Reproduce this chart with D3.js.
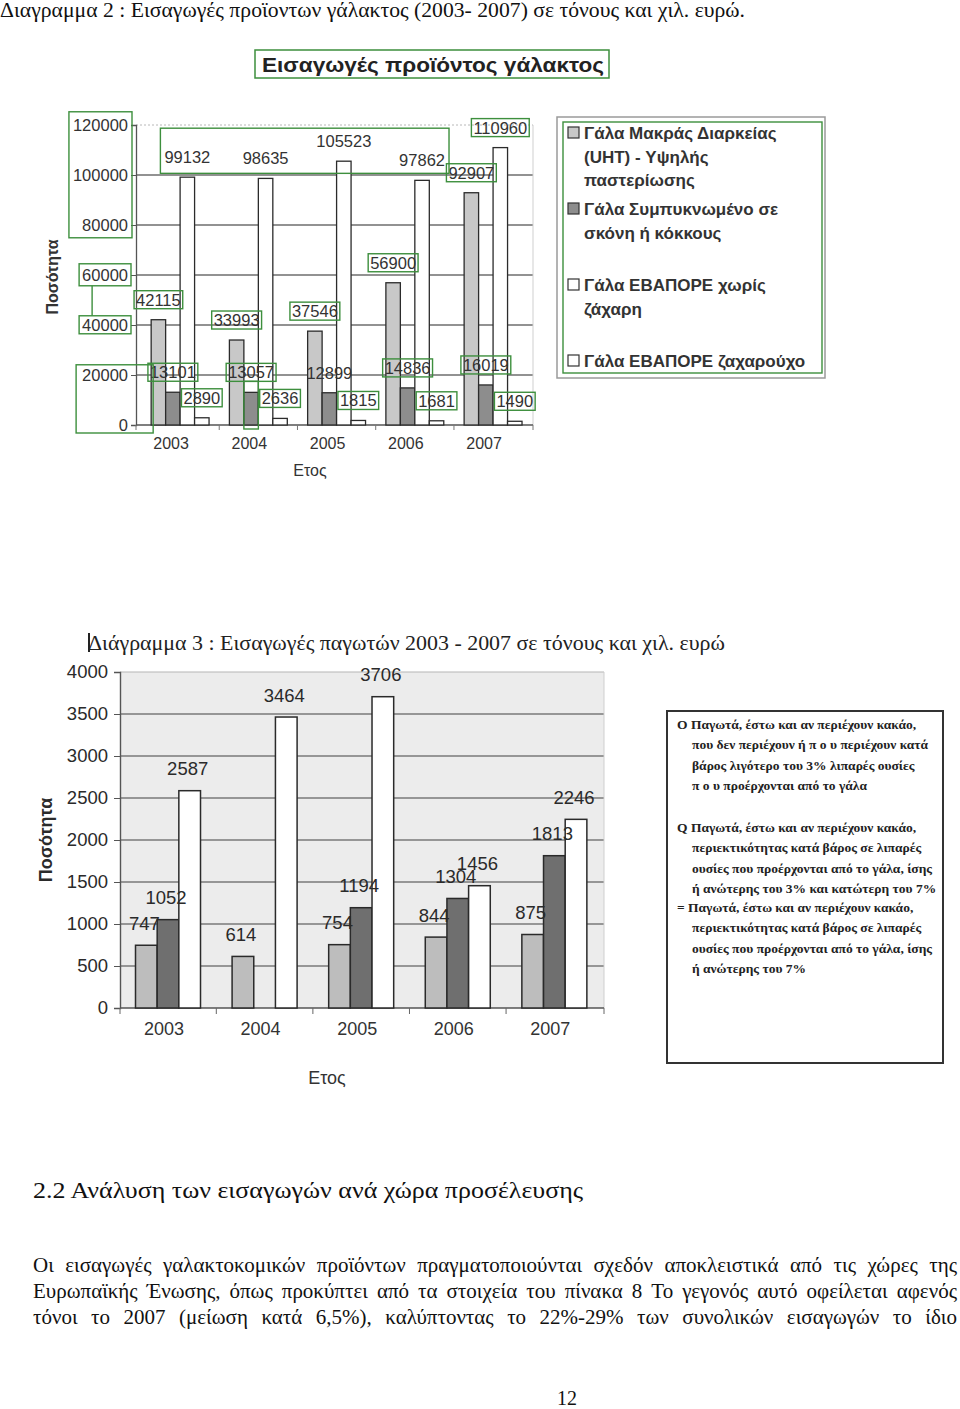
<!DOCTYPE html>
<html><head><meta charset="utf-8">
<script src="https://cdn.jsdelivr.net/npm/d3@7"></script>
<style>body{margin:0;background:#fff} svg{display:block}</style>
</head><body>
<svg id="page" width="960" height="1409"></svg>
<script>
// ---------------- DATA ----------------
const years = ["2003", "2004", "2005", "2006", "2007"];

// Chart 1 – milk product imports (tonnes)
const milkUHT        = [42115, 33993, 37546, 56900, 92907];
const milkPowder     = [13101, 13057, 12899, 14836, 16019];
const milkEvapPlain  = [99132, 98635, 105523, 97862, 110960];
const milkEvapSweet  = [2890, 2636, 1815, 1681, 1490];
const milkTicks      = [0, 20000, 40000, 60000, 80000, 100000, 120000];
const milkLegend = [
  ["Γάλα Μακράς Διαρκείας", "(UHT) - Υψηλής", "παστερίωσης"],
  ["Γάλα Συμπυκνωμένο σε", "σκόνη ή κόκκους"],
  ["Γάλα ΕΒΑΠΟΡΕ χωρίς", "ζάχαρη"],
  ["Γάλα ΕΒΑΠΟΡΕ ζαχαρούχο"]
];
const milkTitle = "Εισαγωγές προϊόντος γάλακτος";

// Chart 2 – ice cream imports (tonnes)
const iceLowFat  = [747, 614, 754, 844, 875];
const iceMidFat  = [1052, null, 1194, 1304, 1813];
const iceHighFat = [2587, 3464, 3706, 1456, 2246];
const iceTicks   = [0, 500, 1000, 1500, 2000, 2500, 3000, 3500, 4000];
const iceLegend = [
  ["Ο Παγωτά, έστω και αν περιέχουν κακάο,", "που δεν περιέχουν ή π ο υ  περιέχουν κατά", "βάρος λιγότερο του 3% λιπαρές ουσίες", "π ο υ  προέρχονται από το γάλα"],
  ["Q Παγωτά, έστω και αν περιέχουν κακάο,", "περιεκτικότητας κατά βάρος σε λιπαρές", "ουσίες που προέρχονται από το γάλα, ίσης", "ή ανώτερης του 3% και κατώτερη του 7%"],
  ["= Παγωτά, έστω και αν περιέχουν κακάο,", "περιεκτικότητας κατά βάρος σε λιπαρές", "ουσίες που προέρχονται από το γάλα, ίσης", "ή ανώτερης του 7%"]
];

const caption2 = "Διαγραμμα 2 : Εισαγωγές προϊοντων γάλακτος (2003- 2007) σε τόνους και χιλ. ευρώ.";
const caption3 = "Διάγραμμα 3 : Εισαγωγές παγωτών 2003 - 2007 σε τόνους και χιλ. ευρώ";
const heading = "2.2 Ανάλυση των εισαγωγών ανά χώρα προσέλευσης";
const paragraph = [
  "Οι εισαγωγές γαλακτοκομικών προϊόντων πραγματοποιούνται σχεδόν αποκλειστικά από τις χώρες της",
  "Ευρωπαϊκής Ένωσης, όπως προκύπτει από τα στοιχεία του πίνακα 8 Το γεγονός αυτό οφείλεται αφενός",
  "τόνοι το 2007 (μείωση κατά 6,5%), καλύπτοντας το 22%-29% των συνολικών εισαγωγών το ίδιο"
];
const pageNumber = "12";

// ---------------- HELPERS ----------------
const svg = d3.select("#page");
const SANS = "'Liberation Sans', Arial, sans-serif";
const SERIF = "'Liberation Serif', 'Times New Roman', serif";
const GREEN = "#3d8f3d";

function fit(sel, w) {
  const cur = sel.node().getComputedTextLength();
  if (Math.abs(cur - w) > 2) sel.attr("textLength", w).attr("lengthAdjust", "spacingAndGlyphs");
  return sel;
}
function justify(str, x0, x1, y, size) {
  const words = str.split(" ");
  const g = svg.append("g").attr("font-family", SERIF).attr("font-size", size).attr("fill", "#111");
  const nodes = words.map(w => g.append("text").attr("y", y).text(w));
  const widths = nodes.map(n => n.node().getComputedTextLength());
  const gap = (x1 - x0 - d3.sum(widths)) / (words.length - 1);
  let x = x0;
  nodes.forEach((n, i) => { n.attr("x", x); x += widths[i] + gap; });
}
function boxAround(g, bbs, px, py, color) {
  const x0 = d3.min(bbs, b => b.x) - px, x1 = d3.max(bbs, b => b.x + b.width) + px;
  const y0 = d3.min(bbs, b => b.y) - py, y1 = d3.max(bbs, b => b.y + b.height) + py;
  return g.append("rect").attr("x", x0).attr("y", y0).attr("width", x1 - x0).attr("height", y1 - y0)
    .attr("fill", "none").attr("stroke", color || GREEN).attr("stroke-width", 1.4);
}

// ---------------- PAGE TEXT ----------------
fit(svg.append("text").attr("x", 0).attr("y", 17).attr("font-family", SERIF).attr("font-size", 20)
  .attr("fill", "#111").text(caption2), 745);

// ---------------- CHART 1 ----------------
(function () {
  const g = svg.append("g");
  const L = 136, R = 533, T = 125, B = 425;
  const y = d3.scaleLinear().domain([0, 120000]).range([B, T]);
  const x = d3.scaleBand().domain(years).range([L, R]).paddingInner(0.26).paddingOuter(0.167).align(0.58);
  const series = [milkUHT, milkPowder, milkEvapPlain, milkEvapSweet];
  const fills = ["#c8c8c8", "#8d8d8d", "#ffffff", "#ffffff"];
  const xs = d3.scaleBand().domain(d3.range(series.length)).range([0, x.bandwidth()]);

  g.selectAll("line.grid").data(milkTicks.filter(t => t > 0)).join("line")
    .attr("x1", L).attr("x2", R).attr("y1", d => y(d)).attr("y2", d => y(d))
    .attr("stroke", d => d === 120000 ? "#b8b8b8" : "#6e6e6e")
    .attr("stroke-width", d => d === 120000 ? 1 : 1.3)
    .attr("stroke-dasharray", d => d === 120000 ? "2,2" : null);
  g.append("line").attr("x1", R).attr("x2", R).attr("y1", T).attr("y2", B).attr("stroke", "#cfcfcf");

  const ya = g.append("g").attr("transform", `translate(${L},0)`)
    .call(d3.axisLeft(y).tickValues(milkTicks).tickSize(5).tickPadding(3).tickFormat(d3.format("d")));
  ya.select(".domain").attr("stroke", "#555").attr("stroke-width", 1.3);
  ya.selectAll(".tick line").attr("stroke", "#555");
  ya.selectAll("text").attr("font-family", SANS).attr("font-size", 16.5).attr("fill", "#333");

  g.append("line").attr("x1", L).attr("x2", R).attr("y1", B).attr("y2", B).attr("stroke", "#555").attr("stroke-width", 1.3);
  const bounds = [L].concat(years.slice(1).map(d => x(d) - x.step() * x.paddingInner() / 2)).concat([R]);
  g.selectAll("line.xt").data(bounds).join("line").attr("x1", d => d).attr("x2", d => d)
    .attr("y1", B).attr("y2", B + 5).attr("stroke", "#777");
  g.selectAll("text.year").data(years).join("text")
    .attr("x", d => x(d) + x.bandwidth() / 2 - 9).attr("y", 449).attr("text-anchor", "middle")
    .attr("font-family", SANS).attr("font-size", 16).attr("fill", "#333").text(d => d);

  const cells = [];
  series.forEach((vals, i) => vals.forEach((v, j) => cells.push({ i, j, v, year: years[j] })));
  g.selectAll("rect.bar").data(cells).join("rect")
    .attr("x", d => x(d.year) + xs(d.i)).attr("width", xs.bandwidth())
    .attr("y", d => y(d.v)).attr("height", d => y(0) - y(d.v))
    .attr("fill", d => fills[d.i]).attr("stroke", "#2b2b2b").attr("stroke-width", 1.3);

  const labels = g.selectAll("text.lab").data(cells).join("text")
    .attr("x", d => x(d.year) + xs(d.i) + xs.bandwidth() / 2).attr("y", d => y(d.v) - 14)
    .attr("text-anchor", "middle").attr("font-family", SANS).attr("font-size", 16.5).attr("fill", "#333")
    .text(d => d.v);

  // green annotation boxes (OCR marks in the scan)
  const ann = g.append("g");
  const bb = {};
  labels.each(function (d) { bb[d.i + "_" + d.j] = this.getBBox(); });
  cells.forEach(d => {
    if (d.i === 2 && d.j < 4) return;
    if (d.i === 1 && d.j === 2) return;
    boxAround(ann, [bb[d.i + "_" + d.j]], 2, 0);
  });
  boxAround(ann, [0, 1, 2, 3].map(j => bb["2_" + j]), 4, 4);
  const b2004 = bb["1_1"];
  ann.append("rect").attr("x", x("2004") + xs(1)).attr("y", b2004.y + b2004.height)
    .attr("width", xs.bandwidth()).attr("height", B + 4 - (b2004.y + b2004.height))
    .attr("fill", "none").attr("stroke", GREEN).attr("stroke-width", 1.4);
  const tb = {};
  ya.selectAll(".tick text").each(function (d) {
    const b = this.getBBox(), m = this.getCTM();
    tb[d] = { x: b.x + m.e, y: b.y + m.f, width: b.width, height: b.height };
  });
  boxAround(ann, [tb[120000], tb[100000], tb[80000]], 4, 4);
  const b60 = boxAround(ann, [tb[60000]], 3, 2), b40 = boxAround(ann, [tb[40000]], 3, 0);
  const cx = +b60.attr("x") + 13;
  ann.append("line").attr("x1", cx).attr("x2", cx).attr("y1", +b60.attr("y") + +b60.attr("height"))
    .attr("y2", +b40.attr("y")).attr("stroke", GREEN).attr("stroke-width", 1.4);
  ann.append("rect").attr("x", tb[20000].x - 6).attr("y", tb[20000].y - 1)
    .attr("width", x("2003") + xs(0) + 2 - (tb[20000].x - 6)).attr("height", B + 8 - (tb[20000].y - 1))
    .attr("fill", "none").attr("stroke", GREEN).attr("stroke-width", 1.4);

  const title = svg.append("text").attr("x", 262).attr("y", 72).attr("font-family", SANS)
    .attr("font-weight", "bold").attr("font-size", 21).attr("fill", "#222").text(milkTitle);
  fit(title, 342);
  svg.append("rect").attr("x", 255).attr("y", 50).attr("width", 354).attr("height", 28)
    .attr("fill", "none").attr("stroke", GREEN).attr("stroke-width", 1.5);

  svg.append("text").attr("transform", "translate(58,277) rotate(-90)").attr("text-anchor", "middle")
    .attr("font-family", SANS).attr("font-weight", "bold").attr("font-size", 16).attr("fill", "#333").text("Ποσότητα");
  svg.append("text").attr("x", 310).attr("y", 476).attr("text-anchor", "middle")
    .attr("font-family", SANS).attr("font-size", 16).attr("fill", "#333").text("Ετος");

  const lg = svg.append("g");
  lg.append("rect").attr("x", 557).attr("y", 117).attr("width", 268).attr("height", 261)
    .attr("fill", "#fff").attr("stroke", "#9a9a9a").attr("stroke-width", 1.5);
  lg.append("rect").attr("x", 563).attr("y", 122).attr("width", 259).attr("height", 251)
    .attr("fill", "none").attr("stroke", GREEN).attr("stroke-width", 1.4);
  const ly = d3.scaleLinear().domain([0, 3]).range([133, 361]);
  milkLegend.forEach((lines, i) => {
    lg.append("rect").attr("x", 568).attr("y", ly(i) - 6).attr("width", 11).attr("height", 11)
      .attr("fill", fills[i]).attr("stroke", "#333").attr("stroke-width", 1.2);
    lines.forEach((t, k) => {
      lg.append("text").attr("x", 584).attr("y", ly(i) + 6 + k * 23.5).attr("font-family", SANS)
        .attr("font-weight", "bold").attr("font-size", 17).attr("fill", "#333").text(t);
    });
  });
})();

// ---------------- CHART 2 ----------------
(function () {
  const g = svg.append("g");
  const L = 120, R = 604, T = 672, B = 1008;
  fit(svg.append("text").attr("x", 88).attr("y", 650).attr("font-family", SERIF).attr("font-size", 21)
    .attr("fill", "#222").text(caption3), 637);
  svg.append("line").attr("x1", 89).attr("x2", 89).attr("y1", 633).attr("y2", 652).attr("stroke", "#222").attr("stroke-width", 2);

  const y = d3.scaleLinear().domain([0, 4000]).range([B, T]);
  const x = d3.scaleBand().domain(years).range([L, R]).paddingInner(0.327).paddingOuter(0.169).align(0.475);
  const series = [iceLowFat, iceMidFat, iceHighFat];
  const fills = ["#bdbdbd", "#6f6f6f", "#ffffff"];
  const xs = d3.scaleBand().domain(d3.range(series.length)).range([0, x.bandwidth()]);

  g.append("rect").attr("x", L).attr("y", T).attr("width", R - L).attr("height", B - T).attr("fill", "#ececec");
  g.selectAll("line.grid").data(iceTicks.filter(t => t > 0)).join("line")
    .attr("x1", L).attr("x2", R).attr("y1", d => y(d)).attr("y2", d => y(d))
    .attr("stroke", d => d === 4000 ? "#b5b5b5" : "#7a7a7a").attr("stroke-width", d => d === 4000 ? 1 : 1.6);
  g.append("line").attr("x1", R).attr("x2", R).attr("y1", T).attr("y2", B).attr("stroke", "#cfcfcf");

  const ya = g.append("g").attr("transform", `translate(${L},0)`)
    .call(d3.axisLeft(y).tickValues(iceTicks).tickSize(6).tickPadding(6).tickFormat(d3.format("d")));
  ya.select(".domain").attr("stroke", "#555").attr("stroke-width", 1.4);
  ya.selectAll(".tick line").attr("stroke", "#555");
  ya.selectAll("text").attr("font-family", SANS).attr("font-size", 18.5).attr("fill", "#2a2a2a");

  g.append("line").attr("x1", L).attr("x2", R).attr("y1", B).attr("y2", B).attr("stroke", "#555").attr("stroke-width", 1.4);
  const bounds = [L].concat(years.slice(1).map(d => x(d) - x.step() * x.paddingInner() / 2)).concat([R]);
  g.selectAll("line.xt").data(bounds).join("line").attr("x1", d => d).attr("x2", d => d)
    .attr("y1", B).attr("y2", B + 6).attr("stroke", "#666");
  g.selectAll("text.year").data(years).join("text")
    .attr("x", d => x(d) + x.bandwidth() / 2 - 4).attr("y", 1035).attr("text-anchor", "middle")
    .attr("font-family", SANS).attr("font-size", 18).attr("fill", "#333").text(d => d);

  const cells = [];
  series.forEach((vals, i) => vals.forEach((v, j) => { if (v != null) cells.push({ i, j, v, year: years[j] }); }));
  g.selectAll("rect.bar").data(cells).join("rect")
    .attr("x", d => x(d.year) + xs(d.i)).attr("width", xs.bandwidth())
    .attr("y", d => y(d.v)).attr("height", d => y(0) - y(d.v))
    .attr("fill", d => fills[d.i]).attr("stroke", "#2a2a2a").attr("stroke-width", 1.5);
  g.selectAll("text.lab").data(cells).join("text")
    .attr("x", d => x(d.year) + xs(d.i) + xs.bandwidth() / 2 - 2).attr("y", d => y(d.v) - 15.5)
    .attr("text-anchor", "middle").attr("font-family", SANS).attr("font-size", 18.5).attr("fill", "#2a2a2a")
    .text(d => d.v);

  svg.append("text").attr("transform", "translate(52,840) rotate(-90)").attr("text-anchor", "middle")
    .attr("font-family", SANS).attr("font-weight", "bold").attr("font-size", 18).attr("fill", "#2a2a2a").text("Ποσότητα");
  svg.append("text").attr("x", 327).attr("y", 1084).attr("text-anchor", "middle")
    .attr("font-family", SANS).attr("font-size", 18).attr("fill", "#333").text("Ετος");

  const lg = svg.append("g");
  lg.append("rect").attr("x", 667).attr("y", 711).attr("width", 276).attr("height", 352)
    .attr("fill", "#fff").attr("stroke", "#333").attr("stroke-width", 2);
  const starts = [724, 827, 907];
  iceLegend.forEach((lines, i) => {
    lines.forEach((t, k) => {
      lg.append("text").attr("x", k === 0 ? 677 : 692).attr("y", starts[i] + 5 + k * 20.3)
        .attr("font-family", SERIF).attr("font-weight", "bold").attr("font-size", 13.5).attr("fill", "#222").text(t);
    });
  });
})();

// ---------------- BOTTOM TEXT ----------------
fit(svg.append("text").attr("x", 33).attr("y", 1198).attr("font-family", SERIF).attr("font-size", 23)
  .attr("fill", "#111").text(heading), 550);
paragraph.forEach((line, i) => justify(line, 33, 957, 1272 + i * 26, 21));
svg.append("text").attr("x", 567).attr("y", 1405).attr("text-anchor", "middle").attr("font-family", SERIF)
  .attr("font-size", 20).attr("fill", "#111").text(pageNumber);
</script>
</body></html>
